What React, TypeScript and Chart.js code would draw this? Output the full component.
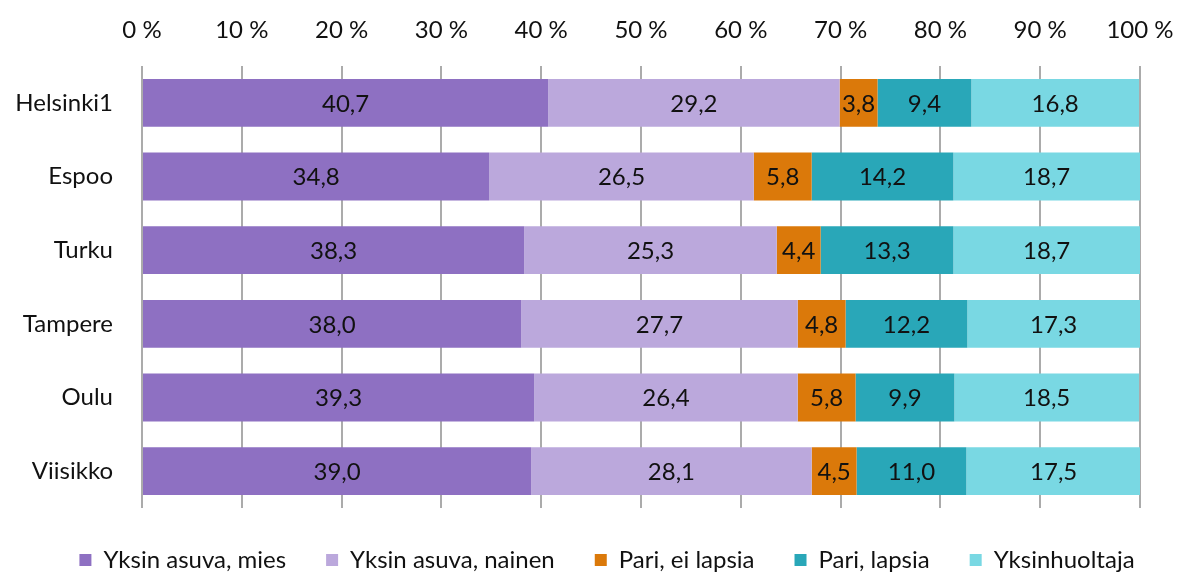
import React, { useEffect, useRef } from "react";
import { Chart, registerables } from "chart.js";

Chart.register(...registerables);

const categories = ["Helsinki1", "Espoo", "Turku", "Tampere", "Oulu", "Viisikko"];
const seriesNames = ["Yksin asuva, mies", "Yksin asuva, nainen", "Pari, ei lapsia", "Pari, lapsia", "Yksinhuoltaja"];
const yksinMies = [40.7, 34.8, 38.3, 38.0, 39.3, 39.0];
const yksinNainen = [29.2, 26.5, 25.3, 27.7, 26.4, 28.1];
const pariEiLapsia = [3.8, 5.8, 4.4, 4.8, 5.8, 4.5];
const pariLapsia = [9.4, 14.2, 13.3, 12.2, 9.9, 11.0];
const yksinhuoltaja = [16.8, 18.7, 18.7, 17.3, 18.5, 17.5];
const colors = ["#8E70C2", "#BBA8DC", "#DB790A", "#29A7B8", "#79D8E3"];

const FONT = "Lato, 'Open Sans', sans-serif";
const FS = 24;

const labelPlugin = {
  id: "barLabels",
  afterDatasetsDraw(chart: any) {
    const ctx = chart.ctx;
    ctx.save();
    ctx.font = `${FS}px ${FONT}`;
    ctx.fillStyle = "#111";
    ctx.textAlign = "center";
    ctx.textBaseline = "middle";
    chart.data.datasets.forEach((ds: any, di: number) => {
      const meta = chart.getDatasetMeta(di);
      meta.data.forEach((bar: any, i: number) => {
        const v = ds.data[i];
        const x = (bar.x + bar.base) / 2;
        ctx.fillText(v.toFixed(1).replace(".", ","), x, bar.y + 1);
      });
    });
    ctx.restore();
  },
};

const legendLayoutPlugin = {
  id: "legendLayout",
  beforeInit(chart: any) {
    const lg = chart.legend;
    if (!lg) return;
    const orig = lg.fit.bind(lg);
    lg.fit = function () {
      orig();
      this.height = 64;
    };
  },
  afterLayout(chart: any) {
    const lg = chart.legend;
    if (!lg) return;
    lg.left += 37;
    lg.right += 37;
  },
};

export default function App() {
  const ref = useRef<HTMLCanvasElement>(null);
  useEffect(() => {
    document.body.style.margin = "0";
    const all = [yksinMies, yksinNainen, pariEiLapsia, pariLapsia, yksinhuoltaja];
    const chart = new Chart(ref.current!, {
      type: "bar",
      data: {
        labels: categories,
        datasets: all.map((d, i) => ({
          label: seriesNames[i],
          data: d,
          backgroundColor: colors[i],
          borderWidth: 0,
          barPercentage: 0.65,
          categoryPercentage: 1,
        })),
      },
      options: {
        indexAxis: "y",
        animation: false,
        responsive: false,
        maintainAspectRatio: false,
        layout: { padding: { left: 0, right: 38, top: 0, bottom: 0 } },
        plugins: {
          legend: {
            position: "bottom",
            labels: {
              boxWidth: 12,
              boxHeight: 12,
              padding: 40,
              color: "#111",
              font: { family: FONT, size: FS },
            },
          },
          tooltip: { enabled: false },
        },
        scales: {
          x: {
            position: "top",
            stacked: true,
            min: 0,
            max: 100,
            ticks: {
              stepSize: 10,
              color: "#111",
              font: { family: FONT, size: FS },
              padding: 21,
              callback: (v: any) => `${v} %`,
            },
            grid: { color: "#ABABAB", lineWidth: 2, drawTicks: false },
            border: { display: false },
            afterFit: (s: any) => {
              s.height = 66;
              s.paddingLeft = 0;
              s.paddingRight = 0;
            },
          },
          y: {
            stacked: true,
            ticks: {
              color: "#111",
              font: { family: FONT, size: FS },
              padding: 21,
            },
            grid: { display: false },
            border: { display: false },
            afterFit: (s: any) => {
              s.width = 142;
            },
          },
        },
      },
      plugins: [labelPlugin, legendLayoutPlugin],
    });
    return () => chart.destroy();
  }, []);
  return (
    <div style={{ width: 1178, height: 572 }}>
      <canvas ref={ref} width={1178} height={572} />
    </div>
  );
}
